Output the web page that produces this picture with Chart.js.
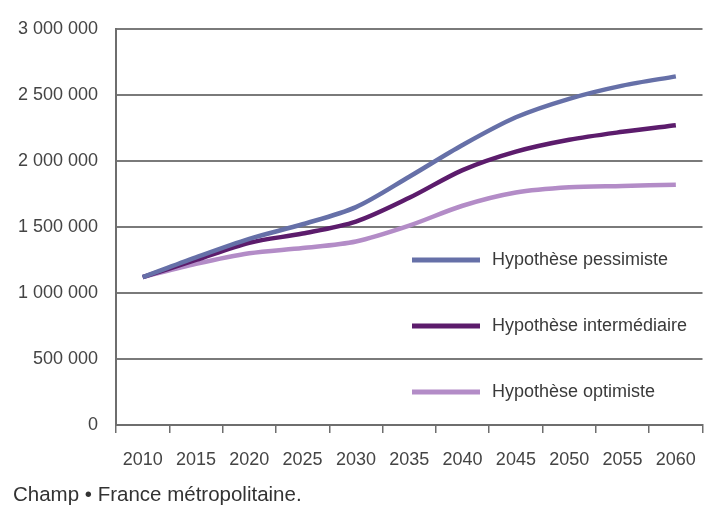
<!DOCTYPE html>
<html>
<head>
<meta charset="utf-8">
<script src="https://cdn.jsdelivr.net/npm/chart.js@4"></script>
<style>
  html, body { margin: 0; padding: 0; background: #fff; overflow: hidden; }
  #wrap { position: relative; width: 704px; height: 507px; overflow: hidden; }
  #note { position: absolute; left: 13px; top: 482px; font: 20.5px 'Liberation Sans', Arial, sans-serif; color: #333; white-space: nowrap; }
</style>
</head>
<body>
<div id="wrap">
  <canvas id="c" width="712" height="507"></canvas>
  <div id="note">Champ • France métropolitaine.</div>
</div>
<script>
// projections 2010-2060, une valeur tous les 5 ans
const years = ['2010', '2015', '2020', '2025', '2030', '2035', '2040', '2045', '2050', '2055', '2060'];
const pessimiste = [1120000, 1270000, 1410000, 1520000, 1650000, 1880000, 2120000, 2330000, 2470000, 2570000, 2640000];
const intermediaire = [1120000, 1250000, 1380000, 1450000, 1540000, 1720000, 1930000, 2070000, 2160000, 2220000, 2270000];
const optimiste = [1120000, 1220000, 1300000, 1340000, 1390000, 1510000, 1660000, 1760000, 1800000, 1810000, 1820000];
const yTicks = [0, 500000, 1000000, 1500000, 2000000, 2500000, 3000000];

const FONT = "'Liberation Sans', Arial, sans-serif";
const sep = v => String(v).replace(/\B(?=(\d{3})+(?!\d))/g, ' ');

// légende dans la zone du graphique, une ligne entre chaque grille
const legendLevels = [1250000, 750000, 250000];
const inPlotLegend = {
  id: 'inPlotLegend',
  afterDatasetsDraw(ch) {
    const { ctx, scales: { y } } = ch;
    ctx.save();
    ch.data.datasets.forEach((ds, i) => {
      const py = y.getPixelForValue(legendLevels[i]);
      ctx.strokeStyle = ds.borderColor; ctx.lineWidth = 5; ctx.lineCap = 'butt';
      ctx.beginPath(); ctx.moveTo(412, py); ctx.lineTo(480, py); ctx.stroke();
      ctx.fillStyle = '#3a3a3a'; ctx.font = '18px ' + FONT; ctx.textBaseline = 'middle';
      ctx.fillText(ds.label, 492, py);
    });
    ctx.restore();
  }
};

new Chart(document.getElementById('c'), {
  type: 'line',
  data: {
    labels: years,
    datasets: [
      { label: 'Hypothèse pessimiste', data: pessimiste, borderColor: '#6670a8' },
      { label: 'Hypothèse intermédiaire', data: intermediaire, borderColor: '#5c1c6c' },
      { label: 'Hypothèse optimiste', data: optimiste, borderColor: '#b38cc7' },
    ],
  },
  options: {
    responsive: false, animation: false,
    layout: { padding: { top: 25, left: 0, right: 3, bottom: 0 } },
    elements: { line: { borderWidth: 4.5, tension: 0.3 }, point: { radius: 0 } },
    plugins: { legend: { display: false }, tooltip: { enabled: false } },
    scales: {
      x: {
        offset: true,
        grid: { offset: true, drawOnChartArea: false, drawTicks: true, tickLength: 8, color: '#6e6e6e', lineWidth: 1.5 },
        border: { color: '#6e6e6e', width: 2 },
        ticks: { color: '#444', font: { family: FONT, size: 18 }, padding: 16, maxRotation: 0, autoSkip: false },
        afterFit: s => { s.height = 82; },
      },
      y: {
        min: 0, max: 3000000,
        afterBuildTicks: s => { s.ticks = yTicks.map(v => ({ value: v })); },
        grid: { color: '#7a7a7a', lineWidth: 2, drawTicks: false },
        border: { color: '#6e6e6e', width: 2 },
        ticks: { color: '#444', font: { family: FONT, size: 18 }, padding: 18, callback: v => sep(v) },
        afterFit: s => { s.width = 116; },
      },
    },
  },
  plugins: [inPlotLegend],
});
</script>
</body>
</html>
